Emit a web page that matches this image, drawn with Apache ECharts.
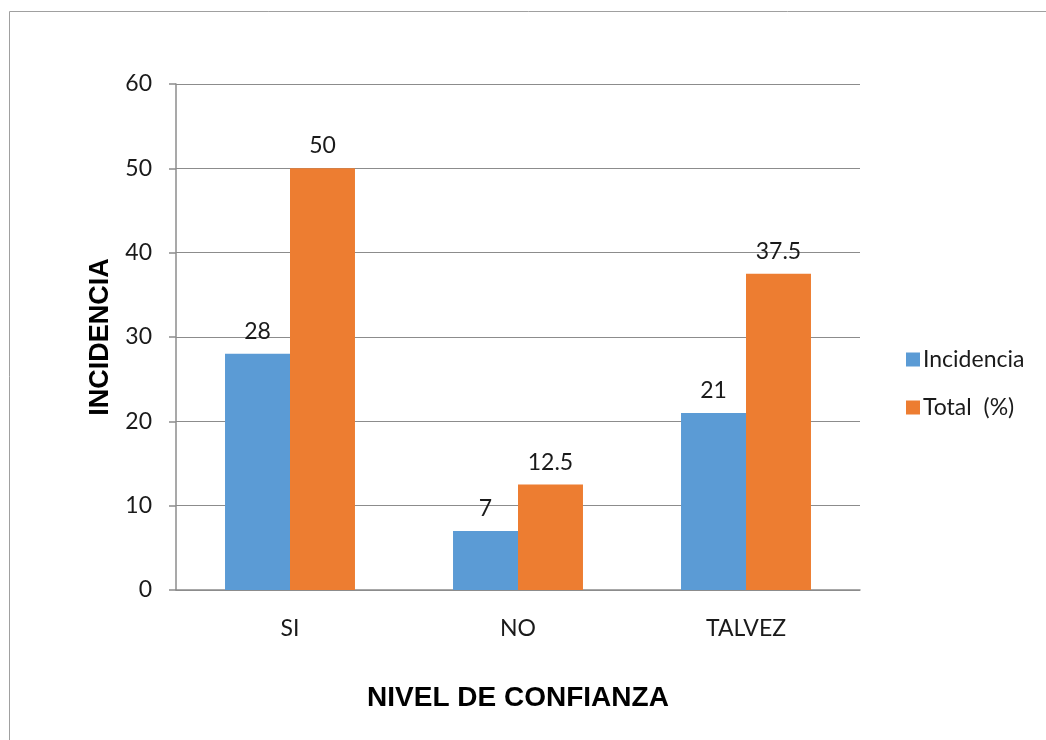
<!DOCTYPE html>
<html>
<head>
<meta charset="utf-8">
<script src="https://cdn.jsdelivr.net/npm/echarts@6/dist/echarts.min.js"></script>
<style>
  html, body { margin: 0; padding: 0; background: #ffffff; }
  #chart { width: 1046px; height: 740px; }
</style>
</head>
<body>
<div id="chart"></div>
<script>
// Responses by confidence level
const categories = ['SI', 'NO', 'TALVEZ'];
const incidencia = [28, 7, 21];
const totalPct = [50, 12.5, 37.5];
const yTicks = { min: 0, max: 60, interval: 10 };

const labelFont = 'Lato, "Open Sans", sans-serif';
const textSize = 23;

const chart = echarts.init(document.getElementById('chart'), null, { renderer: 'canvas' });

const barLabel = {
  show: true,
  position: 'top',
  distance: 11,
  color: '#1a1a1a',
  fontFamily: labelFont,
  fontSize: textSize
};

chart.setOption({
  animation: false,
  graphic: [{
    type: 'rect',
    shape: { x: 9.5, y: 11.5, width: 1100, height: 800 },
    style: { fill: 'none', stroke: '#a0a0a0', lineWidth: 1 },
    silent: true
  }],
  grid: { left: 176, right: 186, top: 84, bottom: 150, containLabel: false },
  legend: {
    orient: 'vertical',
    left: 901,
    top: 343,
    itemWidth: 14,
    itemHeight: 14,
    itemGap: 25,
    icon: 'rect',
    textStyle: { fontFamily: labelFont, fontSize: textSize, color: '#1a1a1a', padding: [0, 0, 0, -2] },
    data: ['Incidencia', 'Total  (%)']
  },
  xAxis: {
    type: 'category',
    data: categories,
    name: 'NIVEL DE CONFIANZA',
    nameLocation: 'middle',
    nameGap: 94,
    nameTextStyle: { fontFamily: '"Liberation Sans", Arial, sans-serif', fontWeight: 'bold', fontSize: 28, color: '#000' },
    axisLine: { lineStyle: { color: '#8c8c8c', width: 1.5 } },
    axisTick: { show: false },
    axisLabel: { margin: 27, fontFamily: labelFont, fontSize: textSize, color: '#1a1a1a' }
  },
  yAxis: {
    type: 'value',
    min: yTicks.min,
    max: yTicks.max,
    interval: yTicks.interval,
    name: 'INCIDENCIA',
    nameLocation: 'middle',
    nameGap: 62,
    nameRotate: 90,
    nameTextStyle: { fontFamily: '"Liberation Sans", Arial, sans-serif', fontWeight: 'bold', fontSize: 27, color: '#000' },
    axisLine: { show: true, lineStyle: { color: '#8c8c8c', width: 1.5 } },
    axisTick: { show: true, inside: false, length: 7, lineStyle: { color: '#8c8c8c', width: 1.5 } },
    axisLabel: { margin: 24, fontFamily: labelFont, fontSize: textSize, color: '#1a1a1a' },
    splitLine: { lineStyle: { color: '#8c8c8c', width: 1 } }
  },
  series: [
    {
      name: 'Incidencia',
      type: 'bar',
      data: incidencia,
      barGap: '0%',
      barCategoryGap: '43%',
      itemStyle: { color: '#5B9BD5' },
      label: barLabel
    },
    {
      name: 'Total  (%)',
      type: 'bar',
      data: totalPct,
      barGap: '0%',
      barCategoryGap: '43%',
      itemStyle: { color: '#ED7D31' },
      label: barLabel
    }
  ]
});
</script>
</body>
</html>
